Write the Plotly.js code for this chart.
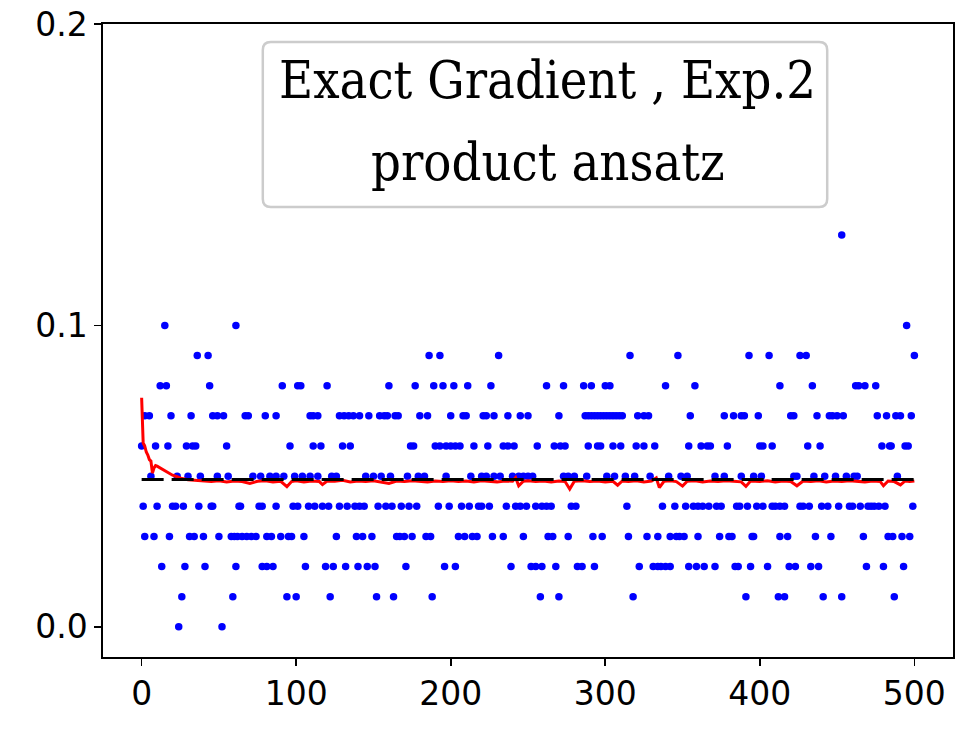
<!DOCTYPE html>
<html>
<head>
<meta charset="utf-8">
<script src="https://cdn.plot.ly/plotly-3.0.1.min.js"></script>
<style>html,body{margin:0;padding:0;background:#fff;}#chart{width:969px;height:747px;}</style>
</head>
<body>
<div id="chart"></div>
<script>
// Scatter points: x positions of visible blue dots, grouped by value level
const level000 = [24, 52];
const level001 = [26, 59, 94, 100, 122, 152, 163, 188, 258, 270, 318, 391, 412, 416, 441, 453, 487];
const level002 = [13, 28, 41, 61, 78, 81, 85, 106, 119, 124, 132, 140, 146, 151, 171, 196, 203, 239, 252, 255, 259, 268, 282, 285, 293, 322, 331, 334, 336, 339, 342, 354, 359, 364, 371, 384, 386, 394, 405, 419, 423, 433, 438, 469, 480, 493];
const level003 = [2, 8, 18, 31, 34, 40, 50, 58, 60, 62, 65, 68, 71, 74, 81, 84, 90, 95, 97, 105, 126, 139, 143, 149, 165, 167, 170, 175, 184, 187, 205, 209, 214, 217, 227, 234, 247, 263, 266, 276, 292, 298, 315, 327, 334, 342, 346, 348, 351, 360, 374, 380, 382, 395, 396, 413, 418, 436, 446, 467, 483, 486, 492, 497];
const level004 = [1, 10, 20, 22, 27, 37, 45, 46, 63, 64, 76, 78, 87, 98, 101, 108, 112, 117, 121, 128, 133, 138, 141, 144, 153, 158, 162, 168, 173, 178, 192, 199, 207, 212, 218, 220, 225, 236, 242, 245, 249, 255, 259, 262, 265, 278, 281, 314, 337, 345, 352, 357, 360, 363, 367, 372, 375, 385, 387, 392, 398, 402, 408, 410, 413, 416, 426, 428, 432, 440, 444, 451, 458, 460, 465, 470, 472, 474, 477, 481, 499];
const level005 = [6, 23, 30, 38, 49, 56, 72, 77, 83, 87, 92, 99, 104, 109, 114, 123, 126, 145, 150, 155, 161, 172, 179, 183, 197, 213, 220, 223, 228, 232, 240, 244, 247, 250, 253, 273, 276, 280, 288, 301, 306, 313, 319, 329, 341, 349, 353, 371, 377, 388, 396, 401, 422, 424, 435, 442, 449, 456, 461, 463, 489];
const level006 = [0, 9, 17, 29, 33, 35, 55, 96, 111, 116, 130, 135, 174, 176, 190, 193, 197, 200, 203, 206, 215, 224, 234, 237, 241, 256, 267, 271, 274, 289, 295, 297, 305, 310, 320, 325, 332, 354, 362, 366, 368, 379, 400, 402, 408, 431, 439, 479, 484, 485, 494, 496];
const level007 = [2, 5, 19, 32, 46, 49, 53, 67, 69, 80, 87, 109, 111, 114, 128, 131, 134, 137, 141, 147, 154, 157, 159, 164, 166, 180, 185, 200, 208, 210, 221, 223, 228, 237, 245, 250, 270, 287, 289, 291, 293, 295, 297, 299, 301, 303, 305, 307, 309, 311, 321, 325, 328, 355, 377, 383, 388, 390, 399, 420, 422, 437, 445, 447, 450, 454, 476, 482, 488, 491, 498];
const level008 = [12, 16, 44, 91, 101, 103, 120, 160, 177, 189, 195, 202, 211, 226, 262, 273, 286, 291, 300, 303, 339, 358, 413, 434, 462, 464, 468, 475];
const level009 = [36, 43, 186, 193, 231, 316, 347, 393, 406, 426, 430, 500];
const level010 = [15, 61, 495];
const level013 = [453];

// Red running curve
const redX = [0,1,2,3,4,5,6,7,8,9,10,11,12,14,16,18,20,23,26,30,35,40,45,50,55,60,65,70,75,80,85,90,94,97,100,105,110,115,117,120,125,130,135,140,145,150,155,160,165,170,175,180,185,190,195,200,205,210,215,220,225,230,235,240,242,244,247,250,255,260,265,270,274,277,280,285,290,295,300,305,308,311,315,320,325,330,333,335,338,342,346,350,353,358,363,368,373,378,383,388,391,394,400,405,410,415,420,424,428,433,438,443,448,453,458,463,468,473,478,480,483,487,491,494,497,500];
const redY = [0.076,0.061,0.060,0.058,0.057,0.0555,0.055,0.051,0.0527,0.0535,0.0533,0.053,0.0525,0.052,0.0515,0.051,0.0503,0.0498,0.0492,0.0488,0.0486,0.0484,0.0482,0.0485,0.0481,0.0484,0.0482,0.0476,0.0483,0.0485,0.0481,0.0483,0.0465,0.0482,0.0485,0.0481,0.0484,0.0482,0.0472,0.0484,0.0483,0.0486,0.0481,0.0484,0.0482,0.0485,0.0481,0.0476,0.0484,0.0482,0.0485,0.0483,0.0481,0.0484,0.0482,0.0485,0.0482,0.0484,0.0481,0.0485,0.0483,0.0481,0.0484,0.0483,0.0495,0.0468,0.0483,0.0485,0.0482,0.0484,0.0481,0.0484,0.0482,0.0457,0.0483,0.0485,0.0482,0.0484,0.0481,0.0483,0.0470,0.0484,0.0482,0.0485,0.0481,0.0484,0.0494,0.0462,0.0483,0.0485,0.0482,0.0467,0.0483,0.0485,0.0481,0.0484,0.0482,0.0485,0.0483,0.0481,0.0466,0.0484,0.0482,0.0485,0.0481,0.0484,0.0482,0.0468,0.0484,0.0482,0.0485,0.0481,0.0484,0.0482,0.0485,0.0483,0.0481,0.0484,0.0482,0.0468,0.0484,0.0482,0.0471,0.0484,0.0482,0.0484];

// Black dashed reference level
const refX = [0, 500];
const refY = [0.0489, 0.0489];

const titleLines = ["Exact Gradient , Exp.2", "product ansatz"];
const xTicks = [0, 100, 200, 300, 400, 500];
const yTicks = [0.0, 0.1, 0.2];
const yTickText = ["0.0", "0.1", "0.2"];

const levels = [[0.00, level000],[0.01, level001],[0.02, level002],[0.03, level003],[0.04, level004],[0.05, level005],[0.06, level006],[0.07, level007],[0.08, level008],[0.09, level009],[0.10, level010],[0.13, level013]];
const dotX = [], dotY = [];
levels.forEach(([v, xs]) => xs.forEach(x => { dotX.push(x); dotY.push(v); }));

const traces = [
  {x: dotX, y: dotY, type: 'scatter', mode: 'markers', marker: {color: '#0000ff', size: 7.5}, hoverinfo: 'skip'},
  {x: redX, y: redY, type: 'scatter', mode: 'lines', line: {color: '#ff0000', width: 3}, hoverinfo: 'skip'},
  {x: refX, y: refY, type: 'scatter', mode: 'lines', line: {color: '#000000', width: 3, dash: '22px,8px'}, hoverinfo: 'skip'}
];

// rounded legend-style box in paper coords
const bx0 = 0.188, bx1 = 0.852, by0 = 0.711, by1 = 0.9716, rx = 0.0094, ry = 0.0126;
const boxPath = `M ${bx0+rx},${by1} L ${bx1-rx},${by1} Q ${bx1},${by1} ${bx1},${by1-ry} L ${bx1},${by0+ry} Q ${bx1},${by0} ${bx1-rx},${by0} L ${bx0+rx},${by0} Q ${bx0},${by0} ${bx0},${by0+ry} L ${bx0},${by1-ry} Q ${bx0},${by1} ${bx0+rx},${by1} Z`;

const serif = "DejaVu Serif Condensed, DejaVu Serif, serif";
const layout = {
  width: 969, height: 747,
  margin: {l: 103, r: 16, t: 24, b: 90},
  paper_bgcolor: '#ffffff', plot_bgcolor: '#ffffff',
  showlegend: false,
  font: {family: 'DejaVu Sans, sans-serif', color: '#000000'},
  xaxis: {range: [-25, 525], tickvals: xTicks, ticktext: xTicks.map(String), showgrid: false, zeroline: false,
          showline: true, mirror: true, linecolor: '#000', linewidth: 1.6, ticks: 'outside', ticklen: 7, tickwidth: 1.6,
          tickcolor: '#000', tickfont: {size: 33, family: 'DejaVu Sans'}},
  yaxis: {range: [-0.01, 0.2], tickvals: yTicks, ticktext: yTickText, showgrid: false, zeroline: false,
          showline: true, mirror: true, linecolor: '#000', linewidth: 1.6, ticks: 'outside', ticklen: 7, tickwidth: 1.6,
          tickcolor: '#000', tickfont: {size: 33, family: 'DejaVu Sans'}},
  shapes: [{type: 'path', xref: 'paper', yref: 'paper', path: boxPath, fillcolor: 'rgba(255,255,255,0.8)', line: {color: '#cccccc', width: 2.5}}],
  annotations: [
    {xref: 'paper', yref: 'paper', x: 0.5235, y: 0.9115, xanchor: 'center', yanchor: 'middle', showarrow: false, text: titleLines[0], font: {family: serif, size: 52, color: '#000'}},
    {xref: 'paper', yref: 'paper', x: 0.5235, y: 0.782, xanchor: 'center', yanchor: 'middle', showarrow: false, text: titleLines[1], font: {family: serif, size: 52, color: '#000'}}
  ]
};

Plotly.newPlot('chart', traces, layout, {displayModeBar: false, staticPlot: true});
</script>
</body>
</html>
